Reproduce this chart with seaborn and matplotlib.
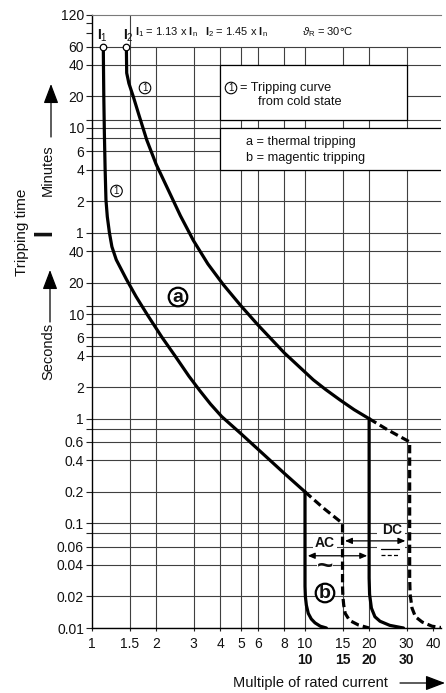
import matplotlib
matplotlib.use("Agg")
import matplotlib.pyplot as plt
from matplotlib.patches import Rectangle
from matplotlib.lines import Line2D
from matplotlib.ticker import FixedLocator, NullLocator
import pandas as pd
import seaborn as sns

# ---------------------------------------------------------------- axes data
x_ticks = [1, 1.5, 2, 3, 4, 5, 6, 8, 10, 15, 20, 30, 40]
x_tick_labels = ["1", "1.5", "2", "3", "4", "5", "6", "8", "10", "15", "20", "30", "40"]
x_grid = [2, 3, 4, 5, 6, 8, 10, 15, 20, 30]
x_bold_ticks = [10, 15, 20, 30]
x_bold_labels = ["10", "15", "20", "30"]

# tripping time in seconds; above one minute the labels count minutes
y_ticks = [7200, 6000, 4800, 3600, 2400, 1200, 720, 600, 480, 360, 240, 120,
           60, 40, 20, 12, 10, 8, 6, 5, 4, 2, 1, 0.8, 0.6, 0.4, 0.2, 0.1,
           0.08, 0.06, 0.04, 0.02, 0.01]
y_tick_labels = ["120", "", "", "60", "40", "20", "", "10", "", "6", "4", "2",
                 "1", "40", "20", "", "10", "", "6", "", "4", "2", "1", "",
                 "0.6", "0.4", "0.2", "0.1", "", "0.06", "0.04", "0.02", "0.01"]
y_grid = [t for t in y_ticks if t <= 3600]

# ---------------------------------------------------------------- curves
# thermal tripping, cold state, starting at I1 = 1.13 x In
i1 = 1.13
lower_x = [i1, 1.132, 1.136, 1.143, 1.152, 1.163, 1.18, 1.207, 1.24, 1.30, 1.45,
           1.61, 1.81, 2.13, 2.45, 2.85, 3.21, 3.6, 4.06, 5.0, 6.15, 8.0, 10.0]
lower_t = [3600, 2400, 1200, 540, 250, 123, 85, 60, 44, 33, 21.5,
           14.7, 10, 6, 4, 2.55, 1.85, 1.38, 1.05, 0.72, 0.49, 0.3, 0.2]

# thermal tripping, cold state, starting at I2 = 1.45 x In
i2 = 1.45
upper_x = [i2, 1.452, 1.455, 1.49, 1.563, 1.66, 1.807, 2.0, 2.242, 2.6, 2.99,
           3.5, 4.134, 5.0, 6.0, 8.0, 10.94, 12.5, 14.6, 17.0, 20.0]
upper_t = [3600, 2800, 2011, 1600, 1194, 800, 461, 270, 165, 87, 50.6,
           30.1, 19.1, 12.0, 7.9, 4.25, 2.35, 1.9, 1.51, 1.22, 1.0]

# magnetic tripping, lower band (solid) and its tolerance (dashed)
mag_low_x = [10, 10, 10.04, 10.15, 10.36, 10.7, 11.14, 11.8, 12.6]
mag_low_t = [0.2, 0.025, 0.02, 0.0165, 0.0138, 0.0122, 0.0112, 0.0104, 0.01]
mag_low_tol_x = [10, 12.2, 15, 15, 15.06, 15.2, 15.44, 16.2, 17.8, 20]
mag_low_tol_t = [0.2, 0.14, 0.1, 0.025, 0.02, 0.0165, 0.0138, 0.0118, 0.0107, 0.01]

# magnetic tripping, upper band (solid) and its tolerance (dashed)
mag_up_x = [20, 20, 20.1, 20.5, 21.3, 22.5, 25, 29]
mag_up_t = [1.0, 0.03, 0.021, 0.0155, 0.0128, 0.0116, 0.0106, 0.01]
mag_up_tol_x = [20, 24.5, 31, 31, 31.15, 31.8, 33, 35.5, 39.5, 45]
mag_up_tol_t = [1.0, 0.78, 0.6, 0.03, 0.021, 0.0155, 0.0128, 0.0114, 0.0104, 0.01]

start_x = [i1, i2]
start_t = [3600, 3600]

# ---------------------------------------------------------------- style
sns.set_theme(style="white")
plt.rcParams["font.family"] = ["Liberation Sans", "DejaVu Sans"]
plt.rcParams["mathtext.fontset"] = "custom"
plt.rcParams["mathtext.rm"] = "Liberation Sans"
plt.rcParams["mathtext.it"] = "Liberation Sans:italic"
plt.rcParams["mathtext.bf"] = "Liberation Sans:bold"
plt.rcParams["mathtext.fallback"] = "stixsans"

W, H = 446, 693
fig = plt.figure(figsize=(W / 100, H / 100), dpi=100)
fig.patch.set_facecolor("white")
ax = fig.add_axes([92 / W, 65 / H, 349 / W, 613 / H])
ax.set_facecolor("white")
ax.set_xscale("log")
ax.set_yscale("log")
x_max = 10 ** (349 / 213)
ax.set_xlim(1, x_max)
ax.set_ylim(0.01, 7200)


def fpx(x, y):
    return x / W, 1 - y / H


GRID = "#404040"
ax.hlines(y_grid, 1, x_max, colors=GRID, lw=0.8, zorder=1)
ax.vlines(x_grid, 0.01, 3600, colors=GRID, lw=0.8, zorder=1)
ax.vlines([1.5], 0.01, 7200, colors=GRID, lw=0.8, zorder=1)

# legend panels
ax.add_patch(Rectangle((4, 720), 30 - 4, 2400 - 720, fc="white", ec="black",
                       lw=0.9, zorder=2))
ax.add_patch(Rectangle((4, 240), 80 - 4, 600 - 240, fc="white", ec="black",
                       lw=0.9, zorder=2))

solid = dict(color="black", linewidth=2.3, estimator=None, sort=False, ax=ax, zorder=3)
dashed = dict(solid, linestyle=(0, (2.6, 1.3)))

sns.lineplot(data=pd.DataFrame({"m": lower_x, "t": lower_t}), x="m", y="t", **solid)
sns.lineplot(data=pd.DataFrame({"m": upper_x, "t": upper_t}), x="m", y="t", **solid)
sns.lineplot(data=pd.DataFrame({"m": mag_low_x, "t": mag_low_t}), x="m", y="t", **solid)
sns.lineplot(data=pd.DataFrame({"m": mag_up_x, "t": mag_up_t}), x="m", y="t", **solid)
sns.lineplot(data=pd.DataFrame({"m": mag_low_tol_x, "t": mag_low_tol_t}), x="m", y="t", **dashed)
sns.lineplot(data=pd.DataFrame({"m": mag_up_tol_x, "t": mag_up_tol_t}), x="m", y="t", **dashed)
sns.scatterplot(x=start_x, y=start_t, s=22, color="white", edgecolor="black",
                linewidth=0.9, zorder=5, ax=ax, clip_on=False)

# ---------------------------------------------------------------- axes
ax.xaxis.set_major_locator(FixedLocator(x_ticks))
ax.xaxis.set_minor_locator(NullLocator())
ax.set_xticklabels(x_tick_labels)
ax.yaxis.set_major_locator(FixedLocator(y_ticks))
ax.yaxis.set_minor_locator(NullLocator())
ax.set_yticklabels(y_tick_labels)
ax.tick_params(axis="y", direction="out", length=4.3, width=0.8, pad=1.5,
               labelsize=10, color="#222222", labelcolor="#111111", left=True)
ax.tick_params(axis="x", direction="out", length=2.5, width=0.8, pad=3.8,
               labelsize=10, color="#222222", labelcolor="#111111", bottom=True)
ax.set_xlabel("")
ax.set_ylabel("")
ax.spines["right"].set_visible(False)
ax.spines["top"].set_color("#7a7a7a")
ax.spines["top"].set_linewidth(0.8)
for s in ("left", "bottom"):
    ax.spines[s].set_color("black")
    ax.spines[s].set_linewidth(1.0)
ax.grid(False)

xaxis_tr = ax.get_xaxis_transform()
for xv, lab in zip(x_bold_ticks, x_bold_labels):
    ax.text(xv, -0.0515, lab, transform=xaxis_tr, ha="center", va="center",
            fontsize=10, fontweight="bold", color="#111111")

# ---------------------------------------------------------------- texts
txt = dict(transform=fig.transFigure, color="#111111")
ax.text(*fpx(135, 32), r"$\mathbf{I}_{\mathrm{1}}$ = 1.13 x $\mathbf{I}_{\mathrm{n}}$",
        fontsize=8, ha="left", va="center", **txt)
ax.text(*fpx(205, 32), r"$\mathbf{I}_{\mathrm{2}}$ = 1.45 x $\mathbf{I}_{\mathrm{n}}$",
        fontsize=8, ha="left", va="center", **txt)
ax.text(*fpx(302, 32), r"$\vartheta_{\mathrm{R}}$ = 30°C",
        fontsize=8, ha="left", va="center", **txt)
ax.text(*fpx(102, 36), r"$\mathbf{I}_{\mathrm{1}}$", fontsize=10, ha="center", va="center", **txt)
ax.text(*fpx(128, 36), r"$\mathbf{I}_{\mathrm{2}}$", fontsize=10, ha="center", va="center", **txt)

circ_small = dict(boxstyle="circle,pad=0.08", fc="white", ec="black", lw=0.8)
for cx, cy in [(231, 88), (116.5, 191), (145, 88)]:
    ax.text(*fpx(cx, cy), "1", fontsize=7, ha="center", va="center",
            bbox=circ_small, zorder=6, **txt)
ax.text(*fpx(240, 88), "= Tripping curve", fontsize=9.2, ha="left", va="center", zorder=6, **txt)
ax.text(*fpx(258.5, 102), "from cold state", fontsize=9.2, ha="left", va="center", zorder=6, **txt)
ax.text(*fpx(246.5, 142.5), "a = thermal tripping", fontsize=9.2, ha="left", va="center", zorder=6, **txt)
ax.text(*fpx(246.5, 157.5), "b = magentic tripping", fontsize=9.2, ha="left", va="center", zorder=6, **txt)

circ_big = dict(boxstyle="circle,pad=0.04", fc="white", ec="black", lw=1.6)
ax.text(*fpx(178, 297), "a", fontsize=14, fontweight="bold", ha="center",
        va="center", bbox=circ_big, zorder=6, **txt)
ax.text(*fpx(325, 593), "b", fontsize=14, fontweight="bold", ha="center",
        va="center", bbox=circ_big, zorder=6, **txt)

white_bg = dict(boxstyle="square,pad=0.12", fc="white", ec="none")
ax.text(*fpx(325, 543), "AC", fontsize=10, fontweight="bold", ha="center",
        va="center", bbox=white_bg, zorder=6, **txt)
ax.text(*fpx(325, 567), "~", fontsize=20, fontweight="bold", ha="center",
        va="center", bbox=dict(boxstyle="square,pad=0.0", fc="white", ec="none"),
        zorder=6, **txt)

# DC label on a white panel, with the direct-current sign (solid over dashed)
ax.add_patch(Rectangle(fpx(377, 559), 28 / W, 35 / H, transform=fig.transFigure,
                       fc="white", ec="none", zorder=5))
ax.text(*fpx(392, 530), "DC", fontsize=10, fontweight="bold", ha="center",
        va="center", zorder=6, **txt)
x0, x1 = fpx(381, 0)[0], fpx(399, 0)[0]
ax.add_line(Line2D([x0, x1], [fpx(0, 549)[1]] * 2, transform=fig.transFigure,
                   color="black", lw=0.9, zorder=6))
ax.add_line(Line2D([x0, x1], [fpx(0, 555)[1]] * 2, transform=fig.transFigure,
                   color="black", lw=0.9, ls=(0, (3.2, 1.8)), zorder=6))

arrow_small = dict(arrowstyle="<|-|>,head_length=0.35,head_width=0.15",
                   lw=0.9, color="black", shrinkA=0, shrinkB=0)
ax.annotate("", xy=(19.6, 0.049), xytext=(10.3, 0.049), arrowprops=arrow_small, zorder=7)
ax.annotate("", xy=(29.6, 0.068), xytext=(15.4, 0.068), arrowprops=arrow_small, zorder=7)

# axis titles outside the plot area
ax.text(*fpx(22.5, 232), "Tripping time", rotation=90, fontsize=11,
        ha="center", va="center", **txt)
ax.text(*fpx(48, 170), "Minutes", rotation=90, fontsize=10.5,
        ha="center", va="center", **txt)
ax.text(*fpx(48, 351), "Seconds", rotation=90, fontsize=10.5,
        ha="center", va="center", **txt)
ax.text(*fpx(44, 233), "I", rotation=90, fontsize=18, fontweight="bold",
        ha="center", va="center", **txt)
ax.text(*fpx(310, 683), "Multiple of rated current", fontsize=10.5,
        ha="center", va="center", **txt)

arrow_big = dict(arrowstyle="-|>,head_length=1.0,head_width=0.38",
                 lw=0.9, color="black", shrinkA=0, shrinkB=0)
ax.annotate("", xy=fpx(51, 84), xytext=fpx(51, 137), xycoords="figure fraction",
            textcoords="figure fraction", arrowprops=arrow_big, annotation_clip=False)
ax.annotate("", xy=fpx(50, 270), xytext=fpx(50, 322), xycoords="figure fraction",
            textcoords="figure fraction", arrowprops=arrow_big, annotation_clip=False)
ax.annotate("", xy=fpx(445, 683), xytext=fpx(400, 683), xycoords="figure fraction",
            textcoords="figure fraction", arrowprops=arrow_big, annotation_clip=False)

fig.savefig("out.png", dpi=100, facecolor="white")
